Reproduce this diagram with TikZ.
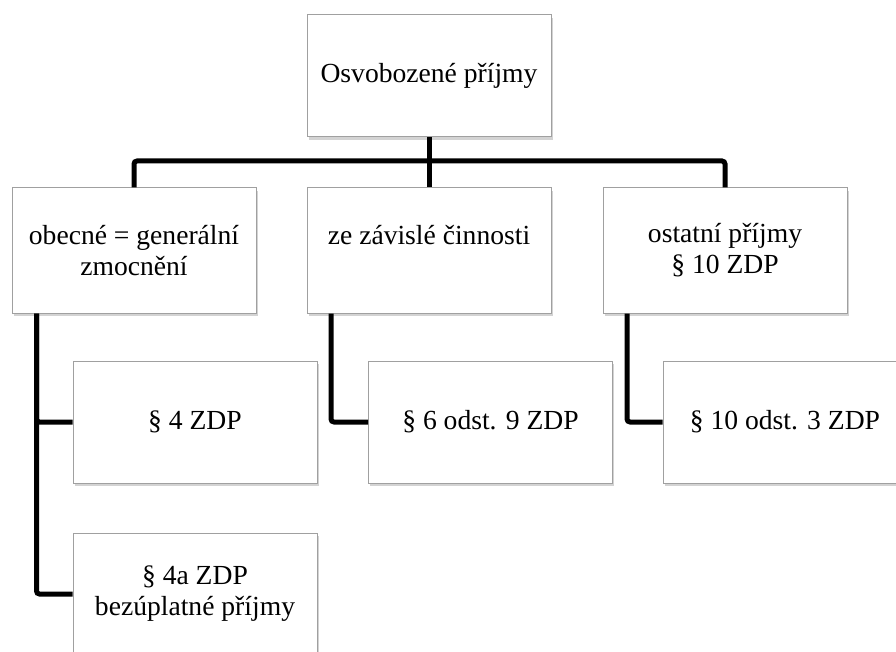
\documentclass[tikz,border=0pt]{standalone}
\usepackage{fontspec}
\setmainfont{Liberation Serif}
\usepackage{tikz}
\usetikzlibrary{shadows}
\definecolor{boxgray}{RGB}{160,160,160}
\tikzstyle{link} = [draw, line width=5pt, rounded corners=3pt]

\begin{document}
\begin{tikzpicture}[x=1pt, y=-1pt,
			box/.style={draw=boxgray, line width=1pt, fill=white, minimum width=244pt, minimum height=#1, inner sep=0pt, align=center,
				drop shadow={opacity=0.35, shadow xshift=1.5pt, shadow yshift=-3pt}},
			box/.default=122pt,
			font=\fontsize{27.6}{31}\selectfont]
			% Bildbereich
			\useasboundingbox (0,0) rectangle (896,652);
			\clip (0,0) rectangle (896,652);
			% Knoten
			\node[box] (root) at (429,76) {Osvobozené příjmy};
			\node[box=125pt] (general) at (134,250.5) {obecné = generální\\zmocnění};
			\node[box=125pt] (employ) at (429,250.5) {ze závislé činnosti\\\mbox{}};
			\node[box=125pt] (other) at (725,250.5) {ostatní příjmy\\§ 10 ZDP};
			\node[box] (s4) at (195,422) {§ 4 ZDP};
			\node[box] (s4a) at (195,594) {§ 4a ZDP\\bezúplatné příjmy};
			\node[box] (s6) at (490.5,422) {§ 6 odst. 9 ZDP};
			\node[box] (s10) at (785,422) {§ 10 odst. 3 ZDP};
			% Verbindungen
			\coordinate (bar) at (429,161);
			\draw[link] (root.south) -- (bar);
			\draw[link] (bar) -| (general.north);
			\draw[link] (bar) -| (other.north);
			\draw[link] (bar) -- (employ.north);
			\draw[link] ([xshift=25pt]general.south west) |- (s4a.west);
			\draw[link] ([xshift=25pt]general.south west) |- (s4.west);
			\draw[link] ([xshift=24.5pt]employ.south west) |- (s6.west);
			\draw[link] ([xshift=24.5pt]other.south west) |- (s10.west);
		\end{tikzpicture}
\end{document}
